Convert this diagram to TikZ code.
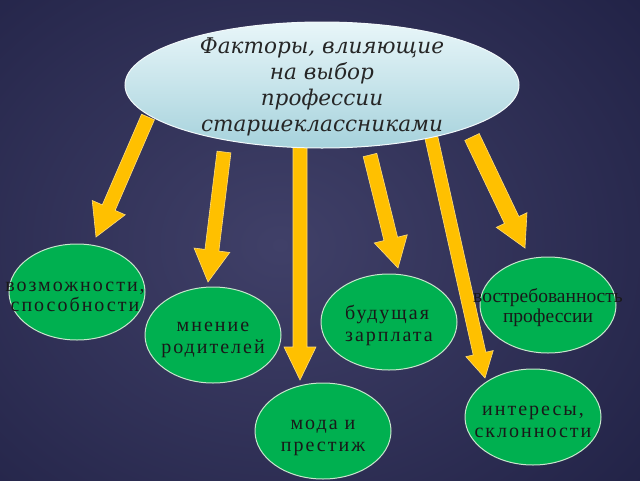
\documentclass[tikz,border=0pt]{standalone}
\usepackage{fontspec}
\setmainfont{Liberation Serif}
\newfontfamily\titlefont{DejaVu Serif}
\newfontfamily\spacedfont[LetterSpace=10]{Liberation Serif}
\usetikzlibrary{shapes.geometric,calc}
\definecolor{bgl}{RGB}{64,64,104}
\definecolor{bgd}{RGB}{33,34,70}
\definecolor{topl}{RGB}{232,246,249}
\definecolor{topd}{RGB}{166,210,220}
\definecolor{grn}{RGB}{0,176,80}
\definecolor{grnb}{RGB}{200,230,205}
\definecolor{ylw}{RGB}{255,192,0}
\definecolor{ylwb}{RGB}{255,220,120}
\tikzset{
  topell/.style={ellipse, draw=white!85!topd, line width=1pt, top color=topl, bottom color=topd,
    minimum width=394pt, minimum height=126pt, inner sep=0pt},
  toptext/.style={align=center, inner sep=0pt,
    font=\titlefont\itshape\fontsize{21.6}{25.8}\selectfont, text=black!85},
  greenell/.style={ellipse, draw=grnb, line width=1pt, fill=grn,
    minimum width=136pt, minimum height=96pt, inner sep=0pt},
  gtext/.style={align=center, inner sep=0pt,
    font=\spacedfont\fontsize{20}{22}\selectfont, text=black!90},
  yarrow/.style={fill=ylw, draw=ylwb, line width=0.6pt, line join=miter}
}
\newcommand\blockarrow[5]{%
  \coordinate (hh) at ($(#2)!#5!(#1)$);
  \draw[yarrow] ($(#1)!#3!90:(#2)$) -- ($(hh)!#3!-90:(#1)$) -- ($(hh)!#4!-90:(#1)$) -- (#2)
    -- ($(hh)!#4!90:(#1)$) -- ($(hh)!#3!90:(#1)$) -- ($(#1)!#3!-90:(#2)$) -- cycle;}
\begin{document}
\begin{tikzpicture}[x=1pt,y=-1pt]
\useasboundingbox (0,0) rectangle (640,480);
\shade[inner color=bgl, outer color=bgd] (-200,-150) rectangle (760,640);
% arrow end points
\coordinate (s1) at (148,117); \coordinate (e1) at (96,237);
\coordinate (s2) at (224,152); \coordinate (e2) at (208,282);
\coordinate (s3) at (300,146); \coordinate (e3) at (300,380);
\coordinate (s4) at (370,155); \coordinate (e4) at (398,268);
\coordinate (s5) at (431,136); \coordinate (e5) at (485,378);
\coordinate (s6) at (472,137); \coordinate (e6) at (525,248);
\blockarrow{s1}{e1}{7pt}{18pt}{32pt}
\blockarrow{s2}{e2}{7pt}{18pt}{32pt}
\blockarrow{s3}{e3}{7pt}{16pt}{33pt}
\blockarrow{s4}{e4}{7pt}{17pt}{30pt}
\blockarrow{s5}{e5}{6.5pt}{14pt}{25pt}
\blockarrow{s6}{e6}{8pt}{17pt}{31pt}
\node[topell, label={[toptext,yshift=-2pt]center:Факторы, влияющие\\на выбор\\профессии\\старшеклассниками}] (top) at (322,85) {};
\node[greenell, label={[gtext,xshift=-2pt,yshift=-5pt,font=\spacedfont\fontsize{20}{20.5}\selectfont]center:возможности,\\способности}] (n1) at (77,292) {};
\node[greenell, label={[gtext,yshift=-5pt]center:мнение\\родителей}] (n2) at (213,335) {};
\node[greenell, label={[gtext,yshift=-7pt]center:мода и\\престиж}] (n3) at (323,431) {};
\node[greenell, label={[gtext,align=left,yshift=-3pt]center:будущая\\зарплата}] (n4) at (389,322) {};
\node[greenell, label={[gtext,font=\rmfamily\fontsize{19.5}{20}\selectfont,yshift=-3pt]center:востребованность\\профессии}] (n5) at (548,305) {};
\node[greenell, label={[gtext,yshift=-5pt]center:интересы,\\склонности}] (n6) at (533,417) {};
\end{tikzpicture}
\end{document}
